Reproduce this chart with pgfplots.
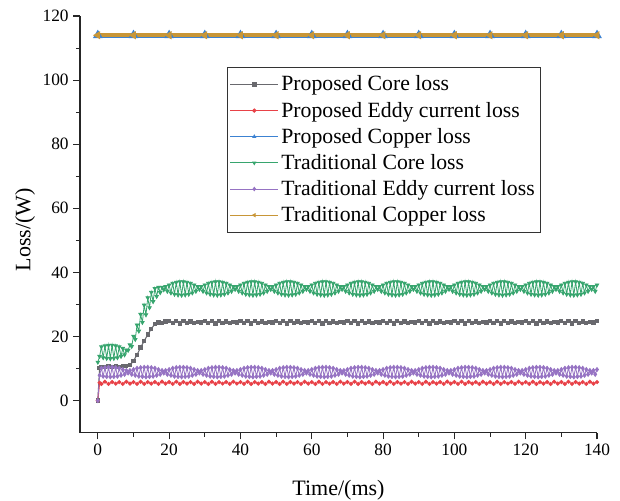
\documentclass[border=0pt]{standalone}
\usepackage{fontspec}
\setmainfont{Liberation Serif}
\usepackage{pgfplots}
\pgfplotsset{compat=1.18}
\definecolor{cgray}{RGB}{105,105,110}
\definecolor{cred}{RGB}{232,66,72}
\definecolor{cblue}{RGB}{60,130,210}
\definecolor{cgreen}{RGB}{55,165,110}
\definecolor{cpurple}{RGB}{150,115,195}
\definecolor{cgold}{RGB}{200,150,55}
\begin{document}
\begin{tikzpicture}
\useasboundingbox (-60pt,-50.5pt) rectangle (405pt,324.5pt);
\begin{axis}[
  at={(0pt,0pt)}, anchor=south west,
  scale only axis, width=387.75pt, height=312.5pt,
  xmin=-5, xmax=140, ymin=-10, ymax=120,
  axis x line*=bottom, axis y line*=left,
  axis line style={-, line width=0.8pt, black!85},
  xtick={0,20,...,140}, ytick={0,20,...,120},
  minor x tick num=1, minor y tick num=1,
  tick align=outside, major tick length=5pt, minor tick length=3pt,
  tick style={line width=0.8pt, black!85},
  /pgf/number format/assume math mode=true,
  ticklabel style={font=\fontsize{13}{15}\selectfont},
  xlabel={Time/(ms)}, ylabel={Loss/(W)},
  every axis x label/.style={at={(axis description cs:0.5,-0.137)}, anchor=center, font=\fontsize{16.5}{19}\selectfont},
  every axis y label/.style={at={(axis description cs:-0.106,0.487)}, rotate=90, anchor=center, font=\fontsize{16.5}{19}\selectfont},
  legend style={at={(0.284,0.878)}, anchor=north west, draw=black!80, line width=0.6pt,
    fill=white, font=\fontsize{16.3}{19.9}\selectfont, inner xsep=2pt, inner ysep=4.5pt,
    row sep=2.8pt},
  legend cell align=left,
  legend image code/.code={\draw[#1, line width=0.6pt, mark size=1.3pt, mark repeat=2, mark phase=2] plot coordinates {(0pt,0pt)(18pt,0pt)(36pt,0pt)};},
]
% Proposed Core loss
\addplot[cgray, line width=0.8pt, mark=square*, mark size=1.2pt, mark options={solid,fill=cgray}] coordinates {
(0,0)(0.5,10.2)(1,10.6)(2,10.4)(3,10.7)(4,10.5)(5,10.8)(6,10.6)(7,10.9)(8,10.7)(9,11.0)
(10,12.4)(11,14.3)(12,16.6)(13,18.6)(14,20.6)(15,22.4)(16,23.9)(17,24.4)(18,24.3)(19,24.7)
(20,24.8)(21,24.2)(22,24.9)(23,24.1)(24,24.8)(25,24.2)(26,24.7)(27,24.3)(28,24.6)(29,24.4)
(30,24.8)(31,24.2)(32,24.9)(33,24.1)(34,24.8)(35,24.2)(36,24.7)(37,24.3)(38,24.6)(39,24.4)
(40,24.8)(41,24.2)(42,24.9)(43,24.1)(44,24.8)(45,24.2)(46,24.7)(47,24.3)(48,24.6)(49,24.4)
(50,24.8)(51,24.2)(52,24.9)(53,24.1)(54,24.8)(55,24.2)(56,24.7)(57,24.3)(58,24.6)(59,24.4)
(60,24.8)(61,24.2)(62,24.9)(63,24.1)(64,24.8)(65,24.2)(66,24.7)(67,24.3)(68,24.6)(69,24.4)
(70,24.8)(71,24.2)(72,24.9)(73,24.1)(74,24.8)(75,24.2)(76,24.7)(77,24.3)(78,24.6)(79,24.4)
(80,24.8)(81,24.2)(82,24.9)(83,24.1)(84,24.8)(85,24.2)(86,24.7)(87,24.3)(88,24.6)(89,24.4)
(90,24.8)(91,24.2)(92,24.9)(93,24.1)(94,24.8)(95,24.2)(96,24.7)(97,24.3)(98,24.6)(99,24.4)
(100,24.8)(101,24.2)(102,24.9)(103,24.1)(104,24.8)(105,24.2)(106,24.7)(107,24.3)(108,24.6)(109,24.4)
(110,24.8)(111,24.2)(112,24.9)(113,24.1)(114,24.8)(115,24.2)(116,24.7)(117,24.3)(118,24.6)(119,24.4)
(120,24.8)(121,24.2)(122,24.9)(123,24.1)(124,24.8)(125,24.2)(126,24.7)(127,24.3)(128,24.6)(129,24.4)
(130,24.8)(131,24.2)(132,24.9)(133,24.1)(134,24.8)(135,24.2)(136,24.7)(137,24.3)(138,24.6)(139,24.4)
(140,24.8)};
\addlegendentry{Proposed Core loss}
% Proposed Eddy current loss
\addplot[cred, line width=0.8pt, mark=*, mark size=1.1pt, mark options={solid,fill=cred}] coordinates {
(0,0)(0.5,5.6)(1,5.2)(2,5.9)(3,5.2)(4,5.8)(5,5.3)(6,5.8)(7,5.2)(8,5.9)(9,5.3)
(10,5.8)(11,5.2)(12,5.9)(13,5.2)(14,5.8)(15,5.3)(16,5.8)(17,5.2)(18,5.9)(19,5.3)
(20,5.8)(21,5.2)(22,5.9)(23,5.2)(24,5.8)(25,5.3)(26,5.8)(27,5.2)(28,5.9)(29,5.3)
(30,5.8)(31,5.2)(32,5.9)(33,5.2)(34,5.8)(35,5.3)(36,5.8)(37,5.2)(38,5.9)(39,5.3)
(40,5.8)(41,5.2)(42,5.9)(43,5.2)(44,5.8)(45,5.3)(46,5.8)(47,5.2)(48,5.9)(49,5.3)
(50,5.8)(51,5.2)(52,5.9)(53,5.2)(54,5.8)(55,5.3)(56,5.8)(57,5.2)(58,5.9)(59,5.3)
(60,5.8)(61,5.2)(62,5.9)(63,5.2)(64,5.8)(65,5.3)(66,5.8)(67,5.2)(68,5.9)(69,5.3)
(70,5.8)(71,5.2)(72,5.9)(73,5.2)(74,5.8)(75,5.3)(76,5.8)(77,5.2)(78,5.9)(79,5.3)
(80,5.8)(81,5.2)(82,5.9)(83,5.2)(84,5.8)(85,5.3)(86,5.8)(87,5.2)(88,5.9)(89,5.3)
(90,5.8)(91,5.2)(92,5.9)(93,5.2)(94,5.8)(95,5.3)(96,5.8)(97,5.2)(98,5.9)(99,5.3)
(100,5.8)(101,5.2)(102,5.9)(103,5.2)(104,5.8)(105,5.3)(106,5.8)(107,5.2)(108,5.9)(109,5.3)
(110,5.8)(111,5.2)(112,5.9)(113,5.2)(114,5.8)(115,5.3)(116,5.8)(117,5.2)(118,5.9)(119,5.3)
(120,5.8)(121,5.2)(122,5.9)(123,5.2)(124,5.8)(125,5.3)(126,5.8)(127,5.2)(128,5.9)(129,5.3)
(130,5.8)(131,5.2)(132,5.9)(133,5.2)(134,5.8)(135,5.3)(136,5.8)(137,5.2)(138,5.9)(139,5.3)
(140,5.8)};
\addlegendentry{Proposed Eddy current loss}
% Proposed Copper loss
\addplot[cblue, line width=3.6pt, mark=triangle*, mark size=0.6pt, mark options={solid,fill=cblue}] coordinates {
(0,114.0)(10,114.0)(20,114.0)(30,114.0)(40,114.0)(50,114.0)(60,114.0)(70,114.0)
(80,114.0)(90,114.0)(100,114.0)(110,114.0)(120,114.0)(130,114.0)(140,114.0)};
\addlegendentry{Proposed Copper loss}
% Traditional Core loss
\addplot[cgreen, line width=0.6pt, mark=triangle*, mark size=1.5pt, mark options={solid,fill=cgreen,rotate=180}] coordinates {
(0,12.0)(0.5,13.8)(1,16.8)(1.5,13.4)(2,17.1)(2.5,13.2)(3,17.3)(3.5,13.1)(4,17.3)(4.5,13.2)
(5,17.1)(5.5,13.4)(6,16.8)(6.5,13.8)(7,16.3)(7.5,14.3)(8,15.8)(8.5,15.7)(9,17.4)(9.5,16.9)
(10,20.1)(10.5,19.1)(11,23.6)(11.5,21.7)(12,26.9)(12.5,24.4)(13,29.8)(13.5,26.8)(14,32.1)(14.5,29.0)
(15,33.8)(15.5,30.9)(16,35.0)(16.5,32.5)(17,35.4)(17.5,33.7)(18,35.4)(18.5,34.6)(19,35.6)(19.5,34.1)
(20,36.1)(20.5,33.6)(21,36.6)(21.5,33.2)(22,36.9)(22.5,33.0)(23,37.1)(23.5,32.9)(24,37.1)(24.5,33.0)(25,36.9)(25.5,33.2)(26,36.6)(26.5,33.6)(27,36.1)(27.5,34.1)(28,35.6)(28.5,34.7)(29,35.6)(29.5,34.1)
(30,36.1)(30.5,33.6)(31,36.6)(31.5,33.2)(32,36.9)(32.5,33.0)(33,37.1)(33.5,32.9)(34,37.1)(34.5,33.0)(35,36.9)(35.5,33.2)(36,36.6)(36.5,33.6)(37,36.1)(37.5,34.1)(38,35.6)(38.5,34.7)(39,35.6)(39.5,34.1)
(40,36.1)(40.5,33.6)(41,36.6)(41.5,33.2)(42,36.9)(42.5,33.0)(43,37.1)(43.5,32.9)(44,37.1)(44.5,33.0)(45,36.9)(45.5,33.2)(46,36.6)(46.5,33.6)(47,36.1)(47.5,34.1)(48,35.6)(48.5,34.7)(49,35.6)(49.5,34.1)
(50,36.1)(50.5,33.6)(51,36.6)(51.5,33.2)(52,36.9)(52.5,33.0)(53,37.1)(53.5,32.9)(54,37.1)(54.5,33.0)(55,36.9)(55.5,33.2)(56,36.6)(56.5,33.6)(57,36.1)(57.5,34.1)(58,35.6)(58.5,34.7)(59,35.6)(59.5,34.1)
(60,36.1)(60.5,33.6)(61,36.6)(61.5,33.2)(62,36.9)(62.5,33.0)(63,37.1)(63.5,32.9)(64,37.1)(64.5,33.0)(65,36.9)(65.5,33.2)(66,36.6)(66.5,33.6)(67,36.1)(67.5,34.1)(68,35.6)(68.5,34.7)(69,35.6)(69.5,34.1)
(70,36.1)(70.5,33.6)(71,36.6)(71.5,33.2)(72,36.9)(72.5,33.0)(73,37.1)(73.5,32.9)(74,37.1)(74.5,33.0)(75,36.9)(75.5,33.2)(76,36.6)(76.5,33.6)(77,36.1)(77.5,34.1)(78,35.6)(78.5,34.7)(79,35.6)(79.5,34.1)
(80,36.1)(80.5,33.6)(81,36.6)(81.5,33.2)(82,36.9)(82.5,33.0)(83,37.1)(83.5,32.9)(84,37.1)(84.5,33.0)(85,36.9)(85.5,33.2)(86,36.6)(86.5,33.6)(87,36.1)(87.5,34.1)(88,35.6)(88.5,34.7)(89,35.6)(89.5,34.1)
(90,36.1)(90.5,33.6)(91,36.6)(91.5,33.2)(92,36.9)(92.5,33.0)(93,37.1)(93.5,32.9)(94,37.1)(94.5,33.0)(95,36.9)(95.5,33.2)(96,36.6)(96.5,33.6)(97,36.1)(97.5,34.1)(98,35.6)(98.5,34.7)(99,35.6)(99.5,34.1)
(100,36.1)(100.5,33.6)(101,36.6)(101.5,33.2)(102,36.9)(102.5,33.0)(103,37.1)(103.5,32.9)(104,37.1)(104.5,33.0)(105,36.9)(105.5,33.2)(106,36.6)(106.5,33.6)(107,36.1)(107.5,34.1)(108,35.6)(108.5,34.7)(109,35.6)(109.5,34.1)
(110,36.1)(110.5,33.6)(111,36.6)(111.5,33.2)(112,36.9)(112.5,33.0)(113,37.1)(113.5,32.9)(114,37.1)(114.5,33.0)(115,36.9)(115.5,33.2)(116,36.6)(116.5,33.6)(117,36.1)(117.5,34.1)(118,35.6)(118.5,34.7)(119,35.6)(119.5,34.1)
(120,36.1)(120.5,33.6)(121,36.6)(121.5,33.2)(122,36.9)(122.5,33.0)(123,37.1)(123.5,32.9)(124,37.1)(124.5,33.0)(125,36.9)(125.5,33.2)(126,36.6)(126.5,33.6)(127,36.1)(127.5,34.1)(128,35.6)(128.5,34.7)(129,35.6)(129.5,34.1)
(130,36.1)(130.5,33.6)(131,36.6)(131.5,33.2)(132,36.9)(132.5,33.0)(133,37.1)(133.5,32.9)(134,37.1)(134.5,33.0)(135,36.9)(135.5,33.2)(136,36.6)(136.5,33.6)(137,36.1)(137.5,34.1)(138,35.6)(138.5,34.7)(139,35.6)(139.5,34.1)
(140,36.1)};
\addlegendentry{Traditional Core loss}
% Traditional Eddy current loss
\addplot[cpurple, line width=0.6pt, mark=diamond*, mark size=1.5pt, mark options={solid,fill=cpurple}] coordinates {
(0,0)(0.5,7.9)(1,10.1)(1.5,7.6)(2,10.3)(2.5,7.5)(3,10.4)(3.5,7.4)(4,10.4)(4.5,7.5)(5,10.3)(5.5,7.6)(6,10.1)(6.5,7.9)(7,9.7)(7.5,8.2)(8,9.4)(8.5,8.6)(9,9.4)(9.5,8.2)
(10,9.7)(10.5,7.9)(11,10.1)(11.5,7.6)(12,10.3)(12.5,7.5)(13,10.4)(13.5,7.4)(14,10.4)(14.5,7.5)(15,10.3)(15.5,7.6)(16,10.1)(16.5,7.9)(17,9.7)(17.5,8.2)(18,9.4)(18.5,8.6)(19,9.4)(19.5,8.2)
(20,9.7)(20.5,7.9)(21,10.1)(21.5,7.6)(22,10.3)(22.5,7.5)(23,10.4)(23.5,7.4)(24,10.4)(24.5,7.5)(25,10.3)(25.5,7.6)(26,10.1)(26.5,7.9)(27,9.7)(27.5,8.2)(28,9.4)(28.5,8.6)(29,9.4)(29.5,8.2)
(30,9.7)(30.5,7.9)(31,10.1)(31.5,7.6)(32,10.3)(32.5,7.5)(33,10.4)(33.5,7.4)(34,10.4)(34.5,7.5)(35,10.3)(35.5,7.6)(36,10.1)(36.5,7.9)(37,9.7)(37.5,8.2)(38,9.4)(38.5,8.6)(39,9.4)(39.5,8.2)
(40,9.7)(40.5,7.9)(41,10.1)(41.5,7.6)(42,10.3)(42.5,7.5)(43,10.4)(43.5,7.4)(44,10.4)(44.5,7.5)(45,10.3)(45.5,7.6)(46,10.1)(46.5,7.9)(47,9.7)(47.5,8.2)(48,9.4)(48.5,8.6)(49,9.4)(49.5,8.2)
(50,9.7)(50.5,7.9)(51,10.1)(51.5,7.6)(52,10.3)(52.5,7.5)(53,10.4)(53.5,7.4)(54,10.4)(54.5,7.5)(55,10.3)(55.5,7.6)(56,10.1)(56.5,7.9)(57,9.7)(57.5,8.2)(58,9.4)(58.5,8.6)(59,9.4)(59.5,8.2)
(60,9.7)(60.5,7.9)(61,10.1)(61.5,7.6)(62,10.3)(62.5,7.5)(63,10.4)(63.5,7.4)(64,10.4)(64.5,7.5)(65,10.3)(65.5,7.6)(66,10.1)(66.5,7.9)(67,9.7)(67.5,8.2)(68,9.4)(68.5,8.6)(69,9.4)(69.5,8.2)
(70,9.7)(70.5,7.9)(71,10.1)(71.5,7.6)(72,10.3)(72.5,7.5)(73,10.4)(73.5,7.4)(74,10.4)(74.5,7.5)(75,10.3)(75.5,7.6)(76,10.1)(76.5,7.9)(77,9.7)(77.5,8.2)(78,9.4)(78.5,8.6)(79,9.4)(79.5,8.2)
(80,9.7)(80.5,7.9)(81,10.1)(81.5,7.6)(82,10.3)(82.5,7.5)(83,10.4)(83.5,7.4)(84,10.4)(84.5,7.5)(85,10.3)(85.5,7.6)(86,10.1)(86.5,7.9)(87,9.7)(87.5,8.2)(88,9.4)(88.5,8.6)(89,9.4)(89.5,8.2)
(90,9.7)(90.5,7.9)(91,10.1)(91.5,7.6)(92,10.3)(92.5,7.5)(93,10.4)(93.5,7.4)(94,10.4)(94.5,7.5)(95,10.3)(95.5,7.6)(96,10.1)(96.5,7.9)(97,9.7)(97.5,8.2)(98,9.4)(98.5,8.6)(99,9.4)(99.5,8.2)
(100,9.7)(100.5,7.9)(101,10.1)(101.5,7.6)(102,10.3)(102.5,7.5)(103,10.4)(103.5,7.4)(104,10.4)(104.5,7.5)(105,10.3)(105.5,7.6)(106,10.1)(106.5,7.9)(107,9.7)(107.5,8.2)(108,9.4)(108.5,8.6)(109,9.4)(109.5,8.2)
(110,9.7)(110.5,7.9)(111,10.1)(111.5,7.6)(112,10.3)(112.5,7.5)(113,10.4)(113.5,7.4)(114,10.4)(114.5,7.5)(115,10.3)(115.5,7.6)(116,10.1)(116.5,7.9)(117,9.7)(117.5,8.2)(118,9.4)(118.5,8.6)(119,9.4)(119.5,8.2)
(120,9.7)(120.5,7.9)(121,10.1)(121.5,7.6)(122,10.3)(122.5,7.5)(123,10.4)(123.5,7.4)(124,10.4)(124.5,7.5)(125,10.3)(125.5,7.6)(126,10.1)(126.5,7.9)(127,9.7)(127.5,8.2)(128,9.4)(128.5,8.6)(129,9.4)(129.5,8.2)
(130,9.7)(130.5,7.9)(131,10.1)(131.5,7.6)(132,10.3)(132.5,7.5)(133,10.4)(133.5,7.4)(134,10.4)(134.5,7.5)(135,10.3)(135.5,7.6)(136,10.1)(136.5,7.9)(137,9.7)(137.5,8.2)(138,9.4)(138.5,8.6)(139,9.4)(139.5,8.2)
(140,9.7)};
\addlegendentry{Traditional Eddy current loss}
% Traditional Copper loss
\addplot[cgold, line width=3.0pt, mark=triangle*, mark size=0.6pt, mark options={solid,fill=cgold,rotate=90}] coordinates {
(0,114.0)(10,114.0)(20,114.0)(30,114.0)(40,114.0)(50,114.0)(60,114.0)(70,114.0)
(80,114.0)(90,114.0)(100,114.0)(110,114.0)(120,114.0)(130,114.0)(140,114.0)};
\addlegendentry{Traditional Copper loss}
\end{axis}
\end{tikzpicture}
\end{document}
